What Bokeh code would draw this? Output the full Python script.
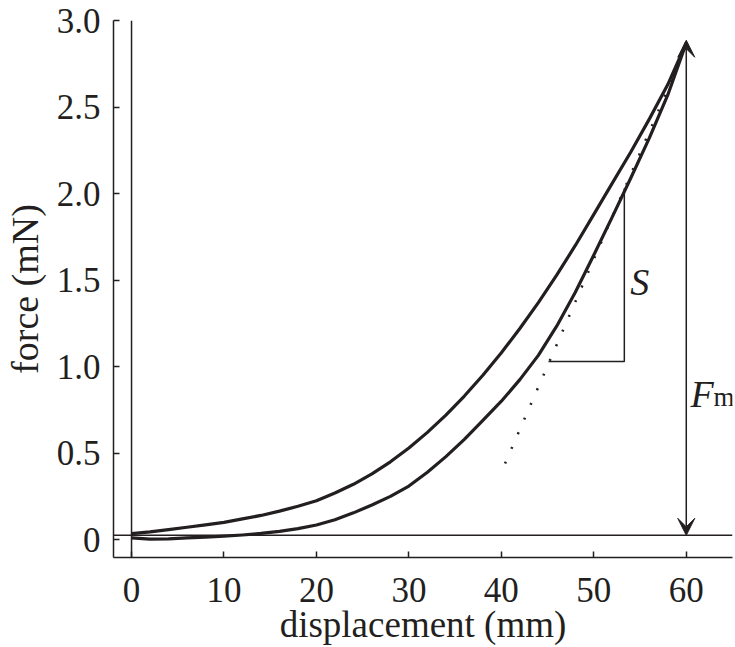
from bokeh.plotting import figure
from bokeh.models import Range1d, FixedTicker, Span, Arrow, VeeHead, Label
from bokeh.embed import file_html
from bokeh.resources import INLINE

# unloading (upper) curve
upper_x = [0, 2, 4, 6, 8, 10, 12, 14, 16, 18, 20, 22, 24, 26, 28, 30, 32, 34, 36, 38,
           40, 42, 44, 46, 48, 50, 52, 54, 56, 58, 60]
upper_y = [0.035, 0.045, 0.058, 0.072, 0.086, 0.10, 0.12, 0.14, 0.165, 0.193, 0.225,
           0.27, 0.32, 0.38, 0.45, 0.53, 0.62, 0.72, 0.83, 0.95, 1.08, 1.22, 1.37,
           1.53, 1.70, 1.88, 2.06, 2.24, 2.43, 2.63, 2.87]
# loading (lower) curve
lower_x = [0, 2, 4, 6, 8, 10, 12, 14, 16, 18, 20, 22, 24, 26, 28, 30, 32, 34, 36, 38,
           40, 42, 44, 46, 48, 50, 52, 54, 56, 58, 60]
lower_y = [0.01, 0.003, 0.005, 0.01, 0.015, 0.02, 0.027, 0.036, 0.048, 0.064, 0.085,
           0.115, 0.155, 0.20, 0.25, 0.31, 0.39, 0.48, 0.58, 0.69, 0.80, 0.925, 1.065,
           1.235, 1.43, 1.645, 1.865, 2.09, 2.32, 2.57, 2.87]
# tangent (stiffness) line
tangent_x = [40.4, 59.6]
tangent_y = [0.44, 2.80]
# S triangle
s_x = [45.1, 53.3, 53.3]
s_y = [1.03, 1.03, 2.03]
s_label_pos = (53.95, 1.49)
# Fm arrow
fm_x = 60
fm_y_start = 0.025
fm_y_end = 2.886
fm_label_pos = (60.45, 0.84)
# reference lines
zero_line_y = 0.025
zero_line_x = 0

x_ticks = [0, 10, 20, 30, 40, 50, 60]
y_ticks = [0, 0.5, 1, 1.5, 2, 2.5, 3]
y_tick_labels = ["0", "0.5", "1.0", "1.5", "2.0", "2.5", "3.0"]
x_title = "displacement (mm)"
y_title = "force (mN)"

INK = "#231f20"
FONT = "Liberation Serif"

p = figure(width=735, height=647,
           x_range=Range1d(-1.95, 65.0), y_range=Range1d(-0.103, 3.0),
           output_backend="svg", toolbar_location=None,
           min_border_left=113, min_border_right=3, min_border_top=20,
           min_border_bottom=88)
p.outline_line_color = None
p.grid.visible = False
p.background_fill_color = "white"
p.border_fill_color = "white"

for ax in (p.xaxis, p.yaxis):
    ax.axis_line_color = INK
    ax.axis_line_width = 1.5
    ax.major_tick_line_color = INK
    ax.major_tick_line_width = 1.5
    ax.major_tick_in = 6
    ax.major_tick_out = 0
    ax.minor_tick_line_color = None
    ax.major_label_text_font = FONT
    ax.major_label_text_font_size = "35px"
    ax.major_label_text_color = INK
    ax.axis_label_text_font = FONT
    ax.axis_label_text_font_style = "normal"
    ax.axis_label_text_color = INK

p.xaxis.ticker = FixedTicker(ticks=x_ticks)
p.yaxis.ticker = FixedTicker(ticks=y_ticks)
p.yaxis.major_label_overrides = dict(zip(y_ticks, y_tick_labels))
p.xaxis.axis_label = x_title
p.yaxis.axis_label = y_title
p.xaxis.axis_label_text_font_size = "37px"
p.yaxis.axis_label_text_font_size = "38px"
p.xaxis.major_label_standoff = 20
p.xaxis.axis_label_standoff = -1
p.yaxis.major_label_standoff = 13
p.yaxis.axis_label_standoff = 8

p.add_layout(Span(location=zero_line_y, dimension="width", line_color=INK, line_width=1.5))
p.add_layout(Span(location=zero_line_x, dimension="height", line_color=INK, line_width=1.5))

p.line(upper_x, upper_y, line_color=INK, line_width=3.2, line_join="round")
p.line(lower_x, lower_y, line_color=INK, line_width=3.2, line_join="round")
p.line(tangent_x, tangent_y, line_color=INK, line_width=2.5, line_dash="2 14")
p.line(s_x, s_y, line_color=INK, line_width=1.5)

head = dict(size=17, fill_color=INK, line_color=INK, line_width=1)
p.add_layout(Arrow(start=VeeHead(**head), end=VeeHead(**head),
                   x_start=fm_x, y_start=fm_y_start, x_end=fm_x, y_end=fm_y_end,
                   line_color=INK, line_width=1.5))

p.add_layout(Label(x=s_label_pos[0], y=s_label_pos[1], text="S", text_font=FONT,
                   text_font_size="38px", text_font_style="italic", text_color=INK,
                   text_baseline="alphabetic"))
p.add_layout(Label(x=fm_label_pos[0], y=fm_label_pos[1], text="F", text_font=FONT,
                   text_font_size="38px", text_font_style="italic", text_color=INK,
                   text_baseline="alphabetic"))
p.add_layout(Label(x=fm_label_pos[0], y=fm_label_pos[1], x_offset=23, y_offset=-3,
                   text="m", text_font=FONT, text_font_size="27px", text_color=INK,
                   text_baseline="alphabetic"))

open("out.html", "w").write(file_html(p, INLINE))
